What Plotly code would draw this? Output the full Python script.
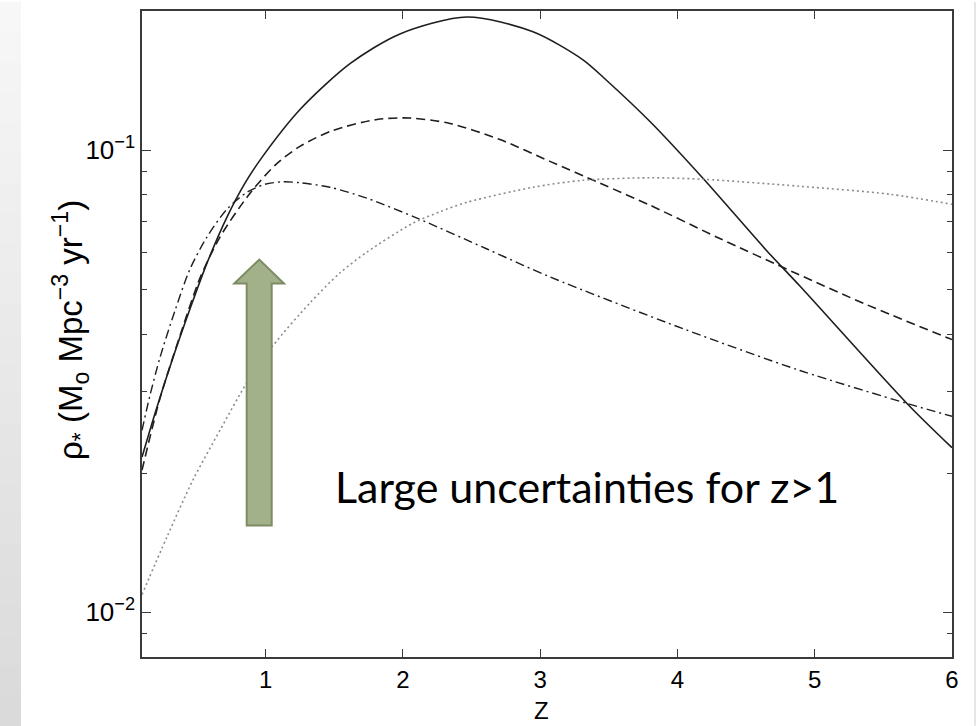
import plotly.graph_objects as go

# Star-formation-rate density models versus redshift
z_solid = [0.1, 0.202, 0.326, 0.45, 0.574, 0.719, 0.85, 0.974, 1.251, 1.615, 1.979, 2.467,
           2.948, 3.312, 3.479, 3.8, 4.186, 4.652, 4.892, 5.672, 6.0]
rho_solid = [0.02166, 0.02735, 0.03557, 0.04536, 0.0570, 0.07161, 0.0848, 0.09645, 0.1224, 0.1538,
             0.1784, 0.1941, 0.1803, 0.1568, 0.1420, 0.1153, 0.0869, 0.0605, 0.0508, 0.0283, 0.0227]

z_dashed = [0.1, 0.231, 0.377, 0.523, 0.668, 0.887, 1.076, 1.251, 1.491, 1.812, 2.052, 2.343,
            2.707, 3.072, 3.436, 3.8, 4.288, 4.871, 5.38, 6.0]
rho_dashed = [0.0203, 0.02902, 0.03968, 0.0529, 0.06484, 0.08067, 0.09315, 0.1019, 0.1103, 0.1165,
              0.1173, 0.1142, 0.1054, 0.09453, 0.0848, 0.0760, 0.0648, 0.0540, 0.04627, 0.0389]

z_dashdot = [0.1, 0.158, 0.231, 0.34, 0.45, 0.573, 0.719, 0.865, 0.996, 1.127, 1.251, 1.469,
             1.739, 2.103, 2.613, 3.072, 4.04, 4.892, 5.672, 6.0]
rho_dashdot = [0.02476, 0.02945, 0.03557, 0.04492, 0.05531, 0.06484, 0.07451, 0.08106, 0.08435,
               0.0854, 0.08497, 0.08309, 0.07867, 0.07126, 0.06109, 0.05316, 0.04108, 0.03335,
               0.0283, 0.02654]

z_dotted = [0.1, 0.282, 0.471, 0.668, 0.865, 1.054, 1.324, 1.542, 1.739, 2.074, 2.27, 2.467,
            2.948, 3.312, 3.8, 4.186, 4.892, 5.548, 6.0]
rho_dotted = [0.01092, 0.01456, 0.01932, 0.02476, 0.03142, 0.03775, 0.04672, 0.05423, 0.06018,
              0.0695, 0.07354, 0.0771, 0.08309, 0.08603, 0.08711, 0.08647, 0.08351, 0.08025, 0.07634]

x_ticks = [1, 2, 3, 4, 5, 6]
y_ticks = [0.01, 0.1]
y_ticktext = ["10<sup>\u22122</sup>", "10<sup>\u22121</sup>"]
y_minor = [0.009, 0.02, 0.03, 0.04, 0.05, 0.06, 0.07, 0.08, 0.09]

W, H = 976, 726
L, R, T, B = 142, 24, 9, 69
PW, PH = W - L - R, H - T - B


def px(xp):
    return (xp - L) / PW


def py(yp):
    return (H - B - yp) / PH


fig = go.Figure()
series = [
    (z_solid, rho_solid, "solid", "#1e1e1e", 1.6),
    (z_dashed, rho_dashed, "9px,5px", "#1e1e1e", 1.6),
    (z_dashdot, rho_dashdot, "9px,4px,2px,4px", "#1e1e1e", 1.4),
    (z_dotted, rho_dotted, "2px,3px", "#8c8c8c", 1.6),
]
for zs, rs, dash, color, width in series:
    fig.add_trace(go.Scatter(
        x=zs, y=rs, mode="lines",
        line=dict(color=color, width=width, dash=dash, shape="spline", smoothing=0.8),
        showlegend=False, hoverinfo="skip",
    ))

shapes = []
# grey slide strip on the left edge, shaded top to bottom
n_band = 24
for i in range(n_band):
    t = i / (n_band - 1)
    g = int(round(247 - t * (247 - 218)))
    shapes.append(dict(
        type="rect", xref="paper", yref="paper", layer="below",
        x0=px(0), x1=px(21), y0=py(H * i / n_band), y1=py(H * (i + 1) / n_band + 1),
        fillcolor=f"rgb({g},{g},{g})", line=dict(width=0),
    ))
shapes.append(dict(
    type="line", xref="paper", yref="paper", layer="below",
    x0=px(975), x1=px(975), y0=py(0), y1=py(H),
    line=dict(color="#dcdcdc", width=1.5),
))

# upward arrow
ax_l, ax_r, ax_c = 246.7, 271.7, 259.3
head_l, head_r = 234.3, 284.0
tip_y, head_y, foot_y = 258.3, 282.3, 525.0
arrow_pts = [
    (ax_l, foot_y), (ax_r, foot_y), (ax_r, head_y), (head_r, head_y),
    (ax_c, tip_y), (head_l, head_y), (ax_l, head_y),
]
path = "M " + " L ".join(f"{px(a):.5f},{py(b):.5f}" for a, b in arrow_pts) + " Z"
shapes.append(dict(
    type="path", xref="paper", yref="paper", path=path,
    fillcolor="#a3b18b", line=dict(color="#7c8c63", width=2),
))

annotations = [
    dict(
        text="Large uncertainties for z>1", xref="paper", yref="paper",
        x=px(333), y=py(486), xanchor="left", yanchor="middle", showarrow=False,
        font=dict(family="Lato", size=43, color="#000000"),
    ),
    dict(
        text="\u03c1<sub>*</sub> (M<sub>o</sub> Mpc<sup>\u22123</sup> yr<sup>\u22121</sup>)",
        xref="paper", yref="paper", x=px(70), y=py(329), textangle=-90,
        xanchor="center", yanchor="middle", showarrow=False,
        font=dict(family="Liberation Sans", size=33, color="#000000"),
    ),
    dict(
        text="Z", xref="paper", yref="paper", x=px(541), y=py(711),
        xanchor="center", yanchor="middle", showarrow=False,
        font=dict(family="Liberation Sans", size=24, color="#000000"),
    ),
]

axis_common = dict(
    showline=True, linecolor="#3a3a3a", linewidth=1.5, mirror="ticks",
    ticks="inside", tickcolor="#3a3a3a", tickwidth=1.3,
    showgrid=False, zeroline=False,
)
tick_font = dict(family="Liberation Sans", color="#000000")

fig.update_layout(
    width=W, height=H,
    margin=dict(l=L, r=R, t=T, b=B, pad=0),
    paper_bgcolor="#ffffff", plot_bgcolor="#ffffff",
    xaxis=dict(range=[0.1, 6], tickvals=x_ticks, ticklen=8,
               tickfont=dict(size=24, **tick_font), **axis_common),
    yaxis=dict(
        type="log", range=[-2.0969, -0.699], tickvals=y_ticks, ticktext=y_ticktext,
        ticklen=9, tickfont=dict(size=26, **tick_font),
        minor=dict(tickvals=y_minor, ticks="inside", ticklen=5, tickcolor="#3a3a3a", tickwidth=1.2),
        **axis_common,
    ),
    shapes=shapes,
    annotations=annotations,
)

fig.write_html("out.html")
